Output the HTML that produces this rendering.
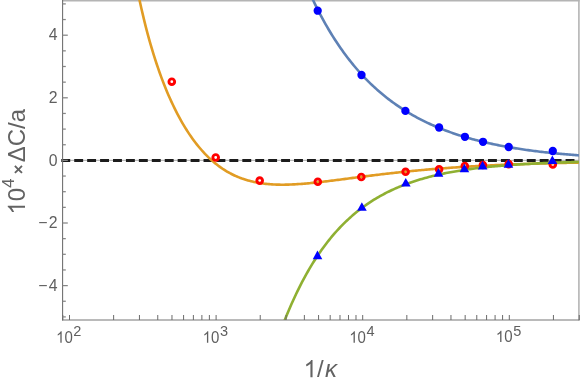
<!DOCTYPE html>
<html><head><meta charset="utf-8"><style>
html,body{margin:0;padding:0;background:#fff;}
svg{display:block;font-family:"Liberation Sans",sans-serif;}
</style></head><body>
<div style="will-change:transform;width:581px;height:385px;background:#fff">
<svg width="581" height="385" viewBox="0 0 581 385">
<rect width="581" height="385" fill="#fff"/>
<defs><clipPath id="c"><rect x="62.6" y="0" width="516.3" height="320.0"/></clipPath></defs>
<line x1="62.6" y1="0.6" x2="579.6" y2="0.6" stroke="#b4b4b4" stroke-width="1.6"/>
<line x1="578.9" y1="0" x2="578.9" y2="320.6" stroke="#b4b4b4" stroke-width="1.6"/>
<line x1="62.6" y1="160.3" x2="578.9" y2="160.3" stroke="#8a8a8a" stroke-width="0.75"/>
<line x1="61.3" y1="160.4" x2="578.1" y2="160.4" stroke="#1c1c1c" stroke-width="2.95" stroke-dasharray="8.9 4.03"/>
<g clip-path="url(#c)">
<g fill="none" stroke-width="2.6" stroke-linejoin="round">
<path d="M300.00,-29.93 L301.50,-26.19 L303.00,-22.53 L304.50,-18.95 L306.00,-15.44 L307.50,-12.01 L309.00,-8.65 L310.50,-5.36 L312.00,-2.13 L313.50,1.02 L315.00,4.12 L316.50,7.14 L318.00,10.11 L319.50,13.01 L321.00,15.86 L322.50,18.64 L324.00,21.37 L325.50,24.04 L327.00,26.66 L328.50,29.23 L330.00,31.74 L331.50,34.20 L333.00,36.62 L334.50,38.98 L336.00,41.30 L337.50,43.57 L339.00,45.79 L340.50,47.97 L342.00,50.11 L343.50,52.20 L345.00,54.25 L346.50,56.26 L348.00,58.23 L349.50,60.17 L351.00,62.06 L352.50,63.92 L354.00,65.74 L355.50,67.52 L357.00,69.27 L358.50,70.99 L360.00,72.67 L361.50,74.32 L363.00,75.94 L364.50,77.53 L366.00,79.08 L367.50,80.61 L369.00,82.10 L370.50,83.57 L372.00,85.01 L373.50,86.42 L375.00,87.80 L376.50,89.16 L378.00,90.49 L379.50,91.80 L381.00,93.08 L382.50,94.33 L384.00,95.57 L385.50,96.78 L387.00,97.96 L388.50,99.13 L390.00,100.27 L391.50,101.39 L393.00,102.49 L394.50,103.57 L396.00,104.63 L397.50,105.67 L399.00,106.69 L400.50,107.69 L402.00,108.67 L403.50,109.63 L405.00,110.58 L406.50,111.50 L408.00,112.41 L409.50,113.31 L411.00,114.18 L412.50,115.04 L414.00,115.89 L415.50,116.72 L417.00,117.53 L418.50,118.33 L420.00,119.11 L421.50,119.88 L423.00,120.64 L424.50,121.38 L426.00,122.11 L427.50,122.82 L429.00,123.52 L430.50,124.21 L432.00,124.89 L433.50,125.55 L435.00,126.20 L436.50,126.84 L438.00,127.47 L439.50,128.09 L441.00,128.69 L442.50,129.29 L444.00,129.87 L445.50,130.44 L447.00,131.01 L448.50,131.56 L450.00,132.10 L451.50,132.63 L453.00,133.16 L454.50,133.67 L456.00,134.17 L457.50,134.67 L459.00,135.15 L460.50,135.63 L462.00,136.10 L463.50,136.56 L465.00,137.01 L466.50,137.46 L468.00,137.89 L469.50,138.32 L471.00,138.74 L472.50,139.15 L474.00,139.56 L475.50,139.95 L477.00,140.34 L478.50,140.73 L480.00,141.10 L481.50,141.47 L483.00,141.84 L484.50,142.19 L486.00,142.54 L487.50,142.89 L489.00,143.22 L490.50,143.56 L492.00,143.88 L493.50,144.20 L495.00,144.51 L496.50,144.82 L498.00,145.12 L499.50,145.42 L501.00,145.71 L502.50,146.00 L504.00,146.28 L505.50,146.56 L507.00,146.83 L508.50,147.09 L510.00,147.36 L511.50,147.61 L513.00,147.86 L514.50,148.11 L516.00,148.35 L517.50,148.59 L519.00,148.83 L520.50,149.06 L522.00,149.28 L523.50,149.50 L525.00,149.72 L526.50,149.93 L528.00,150.14 L529.50,150.35 L531.00,150.55 L532.50,150.75 L534.00,150.94 L535.50,151.14 L537.00,151.32 L538.50,151.51 L540.00,151.69 L541.50,151.87 L543.00,152.04 L544.50,152.21 L546.00,152.38 L547.50,152.54 L549.00,152.70 L550.50,152.86 L552.00,153.02 L553.50,153.17 L555.00,153.32 L556.50,153.47 L558.00,153.61 L559.50,153.75 L561.00,153.89 L562.50,154.03 L564.00,154.16 L565.50,154.29 L567.00,154.42 L568.50,154.55 L570.00,154.67 L571.50,154.79 L573.00,154.91 L574.50,155.03 L576.00,155.14 L577.50,155.26 L579.00,155.37 L580.50,155.47 L582.00,155.58 L583.50,155.69" stroke="#5e81b5"/>
<path d="M125.00,-85.89 L126.50,-74.96 L128.00,-64.61 L129.50,-54.77 L131.00,-45.42 L132.50,-36.53 L134.00,-28.05 L135.50,-19.97 L137.00,-12.26 L138.50,-4.89 L140.00,2.17 L141.50,8.92 L143.00,15.40 L144.50,21.61 L146.00,27.57 L147.50,33.30 L149.00,38.82 L150.50,44.13 L152.00,49.24 L153.50,54.17 L155.00,58.93 L156.50,63.52 L158.00,67.95 L159.50,72.24 L161.00,76.38 L162.50,80.39 L164.00,84.26 L165.50,88.02 L167.00,91.65 L168.50,95.16 L170.00,98.57 L171.50,101.87 L173.00,105.07 L174.50,108.17 L176.00,111.17 L177.50,114.08 L179.00,116.91 L180.50,119.64 L182.00,122.29 L183.50,124.86 L185.00,127.35 L186.50,129.76 L188.00,132.09 L189.50,134.35 L191.00,136.54 L192.50,138.66 L194.00,140.72 L195.50,142.70 L197.00,144.62 L198.50,146.48 L200.00,148.28 L201.50,150.01 L203.00,151.69 L204.50,153.31 L206.00,154.87 L207.50,156.38 L209.00,157.83 L210.50,159.23 L212.00,160.58 L213.50,161.88 L215.00,163.14 L216.50,164.34 L218.00,165.50 L219.50,166.61 L221.00,167.68 L222.50,168.70 L224.00,169.68 L225.50,170.62 L227.00,171.52 L228.50,172.38 L230.00,173.21 L231.50,173.99 L233.00,174.74 L234.50,175.46 L236.00,176.14 L237.50,176.79 L239.00,177.40 L240.50,177.98 L242.00,178.54 L243.50,179.06 L245.00,179.55 L246.50,180.02 L248.00,180.46 L249.50,180.87 L251.00,181.25 L252.50,181.61 L254.00,181.95 L255.50,182.27 L257.00,182.56 L258.50,182.83 L260.00,183.07 L261.50,183.30 L263.00,183.51 L264.50,183.70 L266.00,183.87 L267.50,184.02 L269.00,184.15 L270.50,184.27 L272.00,184.37 L273.50,184.46 L275.00,184.53 L276.50,184.59 L278.00,184.63 L279.50,184.66 L281.00,184.68 L282.50,184.69 L284.00,184.68 L285.50,184.66 L287.00,184.64 L288.50,184.60 L290.00,184.55 L291.50,184.49 L293.00,184.42 L294.50,184.35 L296.00,184.27 L297.50,184.17 L299.00,184.07 L300.50,183.97 L302.00,183.86 L303.50,183.74 L305.00,183.61 L306.50,183.48 L308.00,183.34 L309.50,183.20 L311.00,183.06 L312.50,182.91 L314.00,182.75 L315.50,182.59 L317.00,182.43 L318.50,182.26 L320.00,182.09 L321.50,181.92 L323.00,181.74 L324.50,181.56 L326.00,181.38 L327.50,181.20 L329.00,181.02 L330.50,180.83 L332.00,180.64 L333.50,180.45 L335.00,180.26 L336.50,180.07 L338.00,179.87 L339.50,179.68 L341.00,179.48 L342.50,179.29 L344.00,179.09 L345.50,178.89 L347.00,178.70 L348.50,178.50 L350.00,178.30 L351.50,178.11 L353.00,177.91 L354.50,177.71 L356.00,177.52 L357.50,177.32 L359.00,177.13 L360.50,176.93 L362.00,176.74 L363.50,176.55 L365.00,176.35 L366.50,176.16 L368.00,175.97 L369.50,175.78 L371.00,175.60 L372.50,175.41 L374.00,175.22 L375.50,175.04 L377.00,174.85 L378.50,174.67 L380.00,174.49 L381.50,174.31 L383.00,174.13 L384.50,173.96 L386.00,173.78 L387.50,173.61 L389.00,173.44 L390.50,173.27 L392.00,173.10 L393.50,172.93 L395.00,172.76 L396.50,172.60 L398.00,172.44 L399.50,172.28 L401.00,172.12 L402.50,171.96 L404.00,171.80 L405.50,171.65 L407.00,171.49 L408.50,171.34 L410.00,171.19 L411.50,171.05 L413.00,170.90 L414.50,170.76 L416.00,170.61 L417.50,170.47 L419.00,170.33 L420.50,170.19 L422.00,170.06 L423.50,169.92 L425.00,169.79 L426.50,169.66 L428.00,169.53 L429.50,169.40 L431.00,169.27 L432.50,169.15 L434.00,169.02 L435.50,168.90 L437.00,168.78 L438.50,168.66 L440.00,168.55 L441.50,168.43 L443.00,168.32 L444.50,168.20 L446.00,168.09 L447.50,167.98 L449.00,167.87 L450.50,167.77 L452.00,167.66 L453.50,167.56 L455.00,167.46 L456.50,167.35 L458.00,167.26 L459.50,167.16 L461.00,167.06 L462.50,166.96 L464.00,166.87 L465.50,166.78 L467.00,166.69 L468.50,166.60 L470.00,166.51 L471.50,166.42 L473.00,166.33 L474.50,166.25 L476.00,166.16 L477.50,166.08 L479.00,166.00 L480.50,165.92 L482.00,165.84 L483.50,165.76 L485.00,165.68 L486.50,165.61 L488.00,165.53 L489.50,165.46 L491.00,165.38 L492.50,165.31 L494.00,165.24 L495.50,165.17 L497.00,165.10 L498.50,165.04 L500.00,164.97 L501.50,164.90 L503.00,164.84 L504.50,164.78 L506.00,164.71 L507.50,164.65 L509.00,164.59 L510.50,164.53 L512.00,164.47 L513.50,164.41 L515.00,164.36 L516.50,164.30 L518.00,164.24 L519.50,164.19 L521.00,164.13 L522.50,164.08 L524.00,164.03 L525.50,163.98 L527.00,163.93 L528.50,163.88 L530.00,163.83 L531.50,163.78 L533.00,163.73 L534.50,163.68 L536.00,163.64 L537.50,163.59 L539.00,163.55 L540.50,163.50 L542.00,163.46 L543.50,163.41 L545.00,163.37 L546.50,163.33 L548.00,163.29 L549.50,163.25 L551.00,163.21 L552.50,163.17 L554.00,163.13 L555.50,163.09 L557.00,163.05 L558.50,163.02 L560.00,162.98 L561.50,162.94 L563.00,162.91 L564.50,162.87 L566.00,162.84 L567.50,162.81 L569.00,162.77 L570.50,162.74 L572.00,162.71 L573.50,162.67 L575.00,162.64 L576.50,162.61 L578.00,162.58 L579.50,162.55 L581.00,162.52 L582.50,162.49 L584.00,162.46" stroke="#e19c24"/>
<path d="M275.00,346.55 L276.50,342.22 L278.00,337.98 L279.50,333.85 L281.00,329.81 L282.50,325.86 L284.00,322.01 L285.50,318.25 L287.00,314.57 L288.50,310.98 L290.00,307.48 L291.50,304.05 L293.00,300.71 L294.50,297.44 L296.00,294.25 L297.50,291.13 L299.00,288.09 L300.50,285.12 L302.00,282.21 L303.50,279.37 L305.00,276.60 L306.50,273.90 L308.00,271.26 L309.50,268.67 L311.00,266.15 L312.50,263.69 L314.00,261.29 L315.50,258.94 L317.00,256.64 L318.50,254.40 L320.00,252.21 L321.50,250.08 L323.00,247.99 L324.50,245.95 L326.00,243.96 L327.50,242.01 L329.00,240.11 L330.50,238.25 L332.00,236.44 L333.50,234.67 L335.00,232.94 L336.50,231.25 L338.00,229.60 L339.50,227.99 L341.00,226.42 L342.50,224.88 L344.00,223.38 L345.50,221.91 L347.00,220.48 L348.50,219.08 L350.00,217.71 L351.50,216.38 L353.00,215.08 L354.50,213.80 L356.00,212.56 L357.50,211.35 L359.00,210.16 L360.50,209.00 L362.00,207.87 L363.50,206.76 L365.00,205.68 L366.50,204.63 L368.00,203.60 L369.50,202.59 L371.00,201.61 L372.50,200.65 L374.00,199.71 L375.50,198.80 L377.00,197.91 L378.50,197.03 L380.00,196.18 L381.50,195.35 L383.00,194.53 L384.50,193.74 L386.00,192.96 L387.50,192.20 L389.00,191.46 L390.50,190.74 L392.00,190.03 L393.50,189.34 L395.00,188.67 L396.50,188.01 L398.00,187.37 L399.50,186.74 L401.00,186.13 L402.50,185.53 L404.00,184.94 L405.50,184.37 L407.00,183.81 L408.50,183.27 L410.00,182.74 L411.50,182.22 L413.00,181.71 L414.50,181.21 L416.00,180.73 L417.50,180.25 L419.00,179.79 L420.50,179.34 L422.00,178.90 L423.50,178.47 L425.00,178.05 L426.50,177.64 L428.00,177.23 L429.50,176.84 L431.00,176.46 L432.50,176.09 L434.00,175.72 L435.50,175.36 L437.00,175.02 L438.50,174.68 L440.00,174.34 L441.50,174.02 L443.00,173.70 L444.50,173.39 L446.00,173.09 L447.50,172.79 L449.00,172.50 L450.50,172.22 L452.00,171.95 L453.50,171.68 L455.00,171.42 L456.50,171.16 L458.00,170.91 L459.50,170.66 L461.00,170.43 L462.50,170.19 L464.00,169.96 L465.50,169.74 L467.00,169.52 L468.50,169.31 L470.00,169.10 L471.50,168.90 L473.00,168.70 L474.50,168.51 L476.00,168.32 L477.50,168.14 L479.00,167.96 L480.50,167.78 L482.00,167.61 L483.50,167.44 L485.00,167.28 L486.50,167.12 L488.00,166.96 L489.50,166.81 L491.00,166.66 L492.50,166.51 L494.00,166.37 L495.50,166.23 L497.00,166.10 L498.50,165.96 L500.00,165.83 L501.50,165.71 L503.00,165.58 L504.50,165.46 L506.00,165.34 L507.50,165.23 L509.00,165.12 L510.50,165.01 L512.00,164.90 L513.50,164.80 L515.00,164.69 L516.50,164.59 L518.00,164.50 L519.50,164.40 L521.00,164.31 L522.50,164.22 L524.00,164.13 L525.50,164.04 L527.00,163.96 L528.50,163.87 L530.00,163.79 L531.50,163.71 L533.00,163.64 L534.50,163.56 L536.00,163.49 L537.50,163.41 L539.00,163.34 L540.50,163.28 L542.00,163.21 L543.50,163.14 L545.00,163.08 L546.50,163.02 L548.00,162.96 L549.50,162.90 L551.00,162.84 L552.50,162.78 L554.00,162.73 L555.50,162.67 L557.00,162.62 L558.50,162.57 L560.00,162.52 L561.50,162.47 L563.00,162.42 L564.50,162.37 L566.00,162.33 L567.50,162.28 L569.00,162.24 L570.50,162.20 L572.00,162.15 L573.50,162.11 L575.00,162.07 L576.50,162.03 L578.00,162.00 L579.50,161.96 L581.00,161.92 L582.50,161.89 L584.00,161.85" stroke="#8fb032"/>
</g>
</g>
<circle cx="317.7" cy="10.7" r="4.15" fill="#0000ff"/><circle cx="361.5" cy="75.0" r="4.15" fill="#0000ff"/><circle cx="405.4" cy="110.9" r="4.15" fill="#0000ff"/><circle cx="439.1" cy="127.5" r="4.15" fill="#0000ff"/><circle cx="464.9" cy="136.8" r="4.15" fill="#0000ff"/><circle cx="483.0" cy="141.8" r="4.15" fill="#0000ff"/><circle cx="508.7" cy="147.0" r="4.15" fill="#0000ff"/><circle cx="552.8" cy="151.0" r="4.15" fill="#0000ff"/><circle cx="171.8" cy="81.7" r="2.85" fill="none" stroke="#ff0000" stroke-width="2.9"/><circle cx="215.7" cy="157.5" r="2.85" fill="none" stroke="#ff0000" stroke-width="2.9"/><circle cx="259.7" cy="180.6" r="2.85" fill="none" stroke="#ff0000" stroke-width="2.9"/><circle cx="317.8" cy="181.8" r="2.85" fill="none" stroke="#ff0000" stroke-width="2.9"/><circle cx="361.3" cy="177.0" r="2.85" fill="none" stroke="#ff0000" stroke-width="2.9"/><circle cx="405.6" cy="171.8" r="2.85" fill="none" stroke="#ff0000" stroke-width="2.9"/><circle cx="439.1" cy="169.2" r="2.85" fill="none" stroke="#ff0000" stroke-width="2.9"/><circle cx="464.8" cy="166.0" r="2.85" fill="none" stroke="#ff0000" stroke-width="2.9"/><circle cx="482.9" cy="165.0" r="2.85" fill="none" stroke="#ff0000" stroke-width="2.9"/><circle cx="508.7" cy="164.1" r="2.85" fill="none" stroke="#ff0000" stroke-width="2.9"/><circle cx="552.8" cy="164.4" r="2.85" fill="none" stroke="#ff0000" stroke-width="2.9"/><path d="M317.45,250.60 L322.35,259.25 L312.75,259.25Z" fill="#0000ff"/><path d="M361.85,202.20 L366.75,210.85 L357.15,210.85Z" fill="#0000ff"/><path d="M405.75,177.90 L410.65,186.55 L401.05,186.55Z" fill="#0000ff"/><path d="M438.45,168.00 L443.35,176.65 L433.75,176.65Z" fill="#0000ff"/><path d="M464.35,163.70 L469.25,172.35 L459.65,172.35Z" fill="#0000ff"/><path d="M482.55,160.80 L487.45,169.45 L477.85,169.45Z" fill="#0000ff"/><path d="M508.35,159.10 L513.25,167.75 L503.65,167.75Z" fill="#0000ff"/><path d="M552.35,155.40 L557.25,164.05 L547.65,164.05Z" fill="#0000ff"/>
<line x1="62.6" y1="0" x2="62.6" y2="320.6" stroke="#6b6b6b" stroke-width="1.05"/>
<line x1="62.0" y1="320.0" x2="579.6" y2="320.0" stroke="#777" stroke-width="1.15"/>
<g stroke="#6b6b6b" stroke-width="1">
<line x1="62.79" y1="320.0" x2="62.79" y2="315.00"/><line x1="69.50" y1="320.0" x2="69.50" y2="315.00"/><line x1="113.63" y1="320.0" x2="113.63" y2="315.00"/><line x1="139.45" y1="320.0" x2="139.45" y2="315.00"/><line x1="157.76" y1="320.0" x2="157.76" y2="315.00"/><line x1="171.97" y1="320.0" x2="171.97" y2="315.00"/><line x1="183.58" y1="320.0" x2="183.58" y2="315.00"/><line x1="193.39" y1="320.0" x2="193.39" y2="315.00"/><line x1="201.89" y1="320.0" x2="201.89" y2="315.00"/><line x1="209.39" y1="320.0" x2="209.39" y2="315.00"/><line x1="216.10" y1="320.0" x2="216.10" y2="315.00"/><line x1="260.23" y1="320.0" x2="260.23" y2="315.00"/><line x1="286.05" y1="320.0" x2="286.05" y2="315.00"/><line x1="304.36" y1="320.0" x2="304.36" y2="315.00"/><line x1="318.57" y1="320.0" x2="318.57" y2="315.00"/><line x1="330.18" y1="320.0" x2="330.18" y2="315.00"/><line x1="339.99" y1="320.0" x2="339.99" y2="315.00"/><line x1="348.49" y1="320.0" x2="348.49" y2="315.00"/><line x1="355.99" y1="320.0" x2="355.99" y2="315.00"/><line x1="362.70" y1="320.0" x2="362.70" y2="315.00"/><line x1="406.83" y1="320.0" x2="406.83" y2="315.00"/><line x1="432.65" y1="320.0" x2="432.65" y2="315.00"/><line x1="450.96" y1="320.0" x2="450.96" y2="315.00"/><line x1="465.17" y1="320.0" x2="465.17" y2="315.00"/><line x1="476.78" y1="320.0" x2="476.78" y2="315.00"/><line x1="486.59" y1="320.0" x2="486.59" y2="315.00"/><line x1="495.09" y1="320.0" x2="495.09" y2="315.00"/><line x1="502.59" y1="320.0" x2="502.59" y2="315.00"/><line x1="509.30" y1="320.0" x2="509.30" y2="315.00"/><line x1="553.43" y1="320.0" x2="553.43" y2="315.00"/><line x1="579.25" y1="320.0" x2="579.25" y2="315.00"/>
</g>
<g stroke="#858585" stroke-width="1.25">
<line x1="62.6" y1="316.90" x2="65.80" y2="316.90"/><line x1="62.6" y1="301.25" x2="65.80" y2="301.25"/><line x1="62.6" y1="285.60" x2="67.80" y2="285.60"/><line x1="62.6" y1="269.95" x2="65.80" y2="269.95"/><line x1="62.6" y1="254.30" x2="65.80" y2="254.30"/><line x1="62.6" y1="238.65" x2="65.80" y2="238.65"/><line x1="62.6" y1="223.00" x2="67.80" y2="223.00"/><line x1="62.6" y1="207.35" x2="65.80" y2="207.35"/><line x1="62.6" y1="191.70" x2="65.80" y2="191.70"/><line x1="62.6" y1="176.05" x2="65.80" y2="176.05"/><line x1="62.6" y1="160.40" x2="67.80" y2="160.40"/><line x1="62.6" y1="144.75" x2="65.80" y2="144.75"/><line x1="62.6" y1="129.10" x2="65.80" y2="129.10"/><line x1="62.6" y1="113.45" x2="65.80" y2="113.45"/><line x1="62.6" y1="97.80" x2="67.80" y2="97.80"/><line x1="62.6" y1="82.15" x2="65.80" y2="82.15"/><line x1="62.6" y1="66.50" x2="65.80" y2="66.50"/><line x1="62.6" y1="50.85" x2="65.80" y2="50.85"/><line x1="62.6" y1="35.20" x2="67.80" y2="35.20"/><line x1="62.6" y1="19.55" x2="65.80" y2="19.55"/><line x1="62.6" y1="3.90" x2="65.80" y2="3.90"/>
</g>
<g fill="#5f5f5f" font-size="15.8">
<text x="57.6" y="40.40" text-anchor="end">4</text><text x="57.6" y="103.00" text-anchor="end">2</text><text x="57.6" y="165.60" text-anchor="end">0</text><text x="57.6" y="228.20" text-anchor="end">−<tspan dx="1.3">2</tspan></text><text x="57.6" y="290.80" text-anchor="end">−<tspan dx="1.3">4</tspan></text>
<g transform="translate(56.07,342.7) scale(0.95,1)"><path d="M763 0H583V1147Q518 1085 412.5 1023T223 930V1104Q373 1174.5 485.5 1275T644.5 1470H763Z" transform="translate(0.00,0.00) scale(0.00771,-0.00771)"/><text x="8.79" y="0">0<tspan dy="-6.3" dx="0.6" font-size="15.33">2</tspan></text></g><g transform="translate(202.67,342.7) scale(0.95,1)"><path d="M763 0H583V1147Q518 1085 412.5 1023T223 930V1104Q373 1174.5 485.5 1275T644.5 1470H763Z" transform="translate(0.00,0.00) scale(0.00771,-0.00771)"/><text x="8.79" y="0">0<tspan dy="-6.3" dx="0.6" font-size="15.33">3</tspan></text></g><g transform="translate(349.27,342.7) scale(0.95,1)"><path d="M763 0H583V1147Q518 1085 412.5 1023T223 930V1104Q373 1174.5 485.5 1275T644.5 1470H763Z" transform="translate(0.00,0.00) scale(0.00771,-0.00771)"/><text x="8.79" y="0">0<tspan dy="-6.3" dx="0.6" font-size="15.33">4</tspan></text></g><g transform="translate(495.87,342.1) scale(0.95,1)"><path d="M763 0H583V1147Q518 1085 412.5 1023T223 930V1104Q373 1174.5 485.5 1275T644.5 1470H763Z" transform="translate(0.00,0.00) scale(0.00771,-0.00771)"/><text x="8.79" y="0">0<tspan dy="-6.3" dx="0.6" font-size="15.33">5</tspan></text></g>
</g>
<g fill="#636363" font-size="24">
<path d="M763 0H583V1147Q518 1085 412.5 1023T223 930V1104Q373 1174.5 485.5 1275T644.5 1470H763Z" transform="translate(303.60,377.20) scale(0.01172,-0.01172)"/><text x="316.95" y="377.2">/</text><text x="324.9" y="377.2" font-style="italic">κ</text>
<g transform="translate(25.0,214.6) rotate(-90)"><path d="M763 0H583V1147Q518 1085 412.5 1023T223 930V1104Q373 1174.5 485.5 1275T644.5 1470H763Z" transform="translate(0.00,0.00) scale(0.01172,-0.01172)"/><text x="13.35" y="0">0<tspan dy="-11.3" dx="0.1" font-size="16.6">4</tspan><tspan dy="10.1" dx="4.4" font-size="16.5" font-weight="bold">×</tspan><tspan dy="1.2" dx="2.2">ΔC/a</tspan></text></g>
</g>
</svg>
</div>
</body></html>
